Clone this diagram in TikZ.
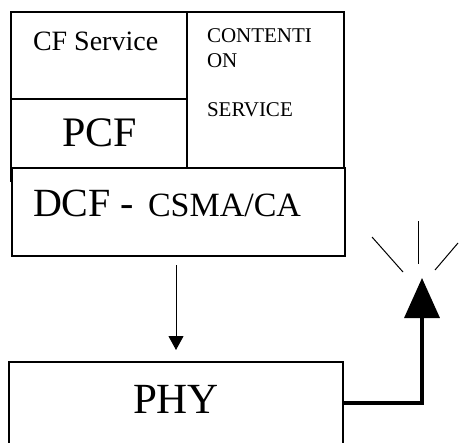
\documentclass[tikz,border=0pt]{standalone}
\usepackage{fontspec}
\setmainfont{Liberation Serif}
\usetikzlibrary{arrows.meta,calc}
\begin{document}
\begin{tikzpicture}[x=1bp,y=-1bp,
  frame/.style={draw, line width=2bp, inner sep=0, outer sep=0, anchor=north west},
  layer/.style={draw, line width=1.2bp, inner sep=0, outer sep=0, anchor=north west},
  label/.style={anchor=base west, inner sep=0, outer sep=0},
  flow/.style={line width=1bp, -{Triangle[width=15bp,length=14bp]}},
  radio/.style={line width=3.5bp, -{Triangle[width=35bp,length=40bp]}},
  ray/.style={line width=1bp}]
\useasboundingbox (0,0) rectangle (459,443);
\clip (0,0) rectangle (459,443);

% MAC sublayer: service cells above the DCF
\node[frame, minimum width=176bp, minimum height=87bp] (cfcell) at (11,12) {};
\node[frame, minimum width=176bp, minimum height=69bp] (pcfcell) at (11,99) {};
\node[frame, minimum width=157bp, minimum height=156bp] (contcell) at (187,12) {};
\draw[line width=2bp] (pcfcell.south west) -- ++(0,14);
\node[layer, minimum width=333bp, minimum height=88bp] (dcf) at (12,168) {};

% physical layer (runs off the lower edge)
\node[layer, minimum width=334bp, minimum height=100bp] (phy) at (9,362) {};

% labels
\node[label, font=\fontsize{28bp}{30bp}\selectfont] (cftext) at (33,50.7) {CF Service};
\node[label, font=\fontsize{42bp}{44bp}\selectfont] (pcftext) at (62,147) {PCF};
\node[label, font=\fontsize{21bp}{23bp}\selectfont] (cont1) at (207,43) {CONTENTI};
\node[label, font=\fontsize{21bp}{23bp}\selectfont] (cont2) at (207,68) {ON};
\node[label, font=\fontsize{21bp}{23bp}\selectfont] (cont3) at (207,117) {SERVICE};
\node[label, font=\fontsize{40bp}{42bp}\selectfont] (dcftext) at (33,217) {DCF -};
\node[label, font=\fontsize{34bp}{36bp}\selectfont] (csmatext) at (148,217) {CSMA/CA};
\node[label, font=\fontsize{43bp}{45bp}\selectfont] (phytext) at (133,413) {PHY};

% MAC to PHY
\draw[flow] ($(phy.north |- dcf.south)+(0,9)$) -- ($(phy.north)+(0,-12)$);

% PHY to antenna
\coordinate (antenna) at (422,278);
\draw[radio] ($(phy.north east)+(0,41)$) -| (antenna);

% radiation rays
\draw[ray] (418,221) -- (418,264);
\draw[ray] (372,237) -- (403,272);
\draw[ray] (458,243) -- (435,270);
\end{tikzpicture}
\end{document}
